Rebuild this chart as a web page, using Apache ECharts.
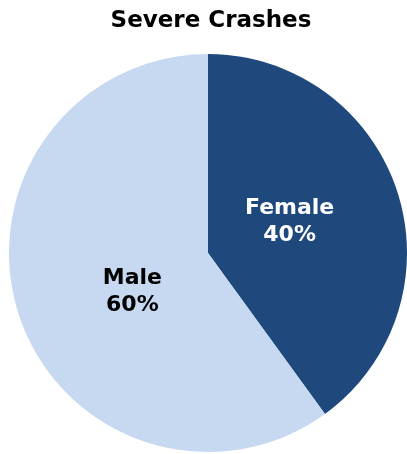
<!DOCTYPE html>
<html><head><meta charset="utf-8">
<script src="https://cdn.jsdelivr.net/npm/echarts@6/dist/echarts.min.js"></script>
<style>html,body{margin:0;padding:0;background:#fff}#c{width:407px;height:454px}</style>
</head><body><div id="c"></div>
<script>
const categories = ['Female', 'Male'];
const values = [40, 60];
const colors = ['#1F497D', '#C6D9F1'];
const labelColors = ['#ffffff', '#000000'];
const labelCenters = [[205, 249], [217, 264]];

const chart = echarts.init(document.getElementById('c'), null, { renderer: 'canvas' });
const labelSeries = categories.map((cat, k) => ({
  type: 'pie', center: labelCenters[k], radius: 172, startAngle: 90, clockwise: true,
  silent: true, labelLine: { show: false },
  label: {
    position: 'inside',
    formatter: p => p.name + '\n' + p.value + '%',
    fontFamily: 'DejaVu Sans', fontWeight: 'bold', fontSize: 22, lineHeight: 27
  },
  data: categories.map((c, i) => ({
    name: c, value: values[i], itemStyle: { color: 'transparent' },
    label: { show: i === k, color: labelColors[i] }
  }))
}));
chart.setOption({
  animation: false,
  title: {
    text: 'Severe Crashes', left: 206, top: 5, textAlign: 'center',
    textStyle: { fontFamily: 'DejaVu Sans', fontWeight: 'bold', fontSize: 23, color: '#000' }
  },
  series: [{
    type: 'pie', center: [208, 253], radius: 199, startAngle: 90, clockwise: true,
    silent: true, label: { show: false }, labelLine: { show: false },
    data: categories.map((c, i) => ({ name: c, value: values[i], itemStyle: { color: colors[i] } }))
  }].concat(labelSeries)
});
</script></body></html>
